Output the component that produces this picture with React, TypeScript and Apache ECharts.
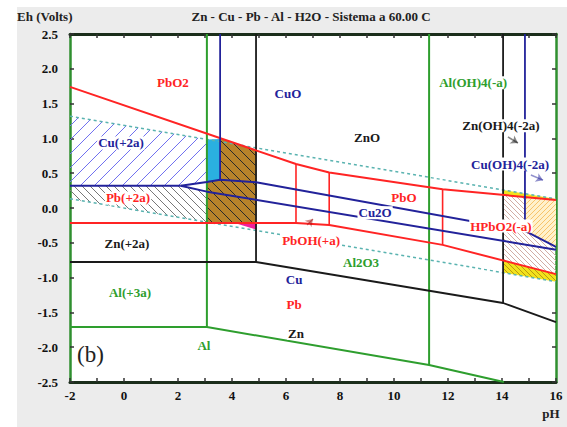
import React, { useEffect, useRef } from "react";
import * as echarts from "echarts";

// ---------- axis ranges ----------
const phRange = [-2, 16];
const ehRange = [-2.5, 2.5];

// ---------- water stability lines (pH, Eh) ----------
const waterO2 = [[-2, 1.32], [16, 0.13]];
const waterH2 = [[-2, 0.132], [16, -1.058]];

// ---------- Cu boundaries ----------
const cuHoriz = [[-2, 0.32], [2.1, 0.32]];
const cu2oUpper = [[2.1, 0.32], [3.07, 0.375], [3.56, 0.405], [4.89, 0.37], [14.85, -0.33]];
const cu2oLower = [[2.1, 0.32], [3.07, 0.235], [16, -0.6]];
const cuOH4Diag = [[14.85, -0.33], [16, -0.56]];
const cuVertLeft = [[3.56, 2.5], [3.56, 0.405]];
const cuVertRight = [[14.85, 2.5], [14.85, -0.33]];

// ---------- Zn boundaries ----------
const znVertLeft = [[4.89, 2.5], [4.89, -0.776]];
const znLower = [[-2, -0.776], [4.89, -0.776], [14.04, -1.365], [16, -1.64]];
const znVertRight = [[14.04, 2.5], [14.04, -1.365]];

// ---------- Al boundaries ----------
const alVertLeft = [[3.07, 2.5], [3.07, -1.71]];
const alLower = [[-2, -1.71], [3.07, -1.71], [11.3, -2.256], [14.07, -2.5]];
const alVertRight = [[11.3, 2.5], [11.3, -2.256]];

// ---------- Pb boundaries ----------
const pbUpper = [[-2, 1.74], [6.37, 0.632], [7.6, 0.51], [11.8, 0.27], [16, 0.115]];
const pbLower = [[-2, -0.216], [6.37, -0.216], [7.6, -0.245], [11.8, -0.53], [16, -0.95]];
const pbVert1 = [[6.37, 0.632], [6.37, -0.216]];
const pbVert2 = [[7.6, 0.51], [7.6, -0.245]];
const pbVert3 = [[11.8, 0.27], [11.8, -0.53]];

// ---------- shaded regions (pH, Eh polygons) ----------
const cyanRegion = [[3.07, 0.985], [3.56, 0.99], [3.56, 0.405], [3.07, 0.375]];
const brownRegion = [[3.56, 1.004], [4.89, 0.828], [4.89, -0.216], [3.07, -0.216], [3.07, 0.375], [3.56, 0.405]];
const magentaRegion = [[4.1, -0.216], [4.89, -0.216], [4.89, -0.31]];
const cuIonRegion = [[-2, 1.32], [3.07, 0.985], [3.07, 0.375], [2.1, 0.32], [-2, 0.32]];
const pbIonRegion = [[-2, 0.32], [2.1, 0.32], [3.07, 0.235], [3.07, -0.203], [-2, 0.132]];
const yellowTopRegion = [[14.04, 0.26], [16, 0.13], [16, 0.115], [14.04, 0.187]];
const orangeRegion = [[14.85, 0.157], [16, 0.115], [16, -0.56], [14.85, -0.33]];
const hpbo2Region = [[14.04, 0.187], [14.85, 0.157], [14.85, -0.33], [16, -0.56], [16, -0.95], [14.04, -0.754]];
const yellowBottomRegion = [[14.04, -0.754], [16, -0.95], [16, -1.058], [14.04, -0.928]];

// ---------- labels: text, pH, Eh, element ----------
const labels: [string, number, number, string][] = [
  ["PbO2", 1.81, 1.8, "Pb"],
  ["CuO", 6.07, 1.64, "Cu"],
  ["ZnO", 9.0, 1.01, "Zn"],
  ["Al(OH)4(-a)", 12.93, 1.8, "Al"],
  ["Zn(OH)4(-2a)", 13.96, 1.18, "Zn"],
  ["Cu(OH)4(-2a)", 14.3, 0.632, "Cu"],
  ["Cu(+2a)", -0.11, 0.934, "Cu"],
  ["Pb(+2a)", 0.15, 0.144, "Pb"],
  ["PbO", 10.37, 0.144, "Pb"],
  ["Cu2O", 9.3, -0.07, "Cu"],
  ["HPbO2(-a)", 13.96, -0.26, "Pb"],
  ["PbOH(+a)", 6.93, -0.46, "Pb"],
  ["Zn(+2a)", 0.11, -0.517, "Zn"],
  ["Al2O3", 8.78, -0.79, "Al"],
  ["Al(+3a)", 0.22, -1.21, "Al"],
  ["Cu", 6.3, -1.03, "Cu"],
  ["Pb", 6.3, -1.38, "Pb"],
  ["Zn", 6.37, -1.8, "Zn"],
  ["Al", 2.96, -1.97, "Al"],
];

// ---------- arrows ----------
const arrowZn = [[14.22, 1.02], [14.59, 0.934]];
const arrowCu = [[15.07, 0.474], [15.52, 0.4]];
const arrowPb = [[6.78, -0.244], [7.0, -0.158]];

const COL: Record<string, string> = {
  Pb: "#ff2424",
  Cu: "#22229a",
  Zn: "#1a1a1a",
  Al: "#2e9e2e",
  water: "#5ab3b0",
};
const SERIF = "Liberation Serif";
const FS = 13;

function hatch(P: number[][], dir: number, step: number) {
  const f = (p: number[]) => (dir === 1 ? p[0] + p[1] : p[0] - p[1]);
  const cs = P.map(f);
  const cmin = Math.min(...cs);
  const cmax = Math.max(...cs);
  const segs: number[][] = [];
  for (let c = Math.ceil(cmin / step) * step; c <= cmax; c += step) {
    const xs: number[] = [];
    for (let i = 0; i < P.length; i++) {
      const a = P[i];
      const b = P[(i + 1) % P.length];
      const fa = f(a) - c;
      const fb = f(b) - c;
      if ((fa < 0 && fb >= 0) || (fa >= 0 && fb < 0)) {
        const t = fa / (fa - fb);
        xs.push(a[0] + t * (b[0] - a[0]));
      }
    }
    xs.sort((u, v) => u - v);
    for (let k = 0; k + 1 < xs.length; k += 2) {
      const x1 = xs[k];
      const x2 = xs[k + 1];
      const y1 = dir === 1 ? c - x1 : x1 - c;
      const y2 = dir === 1 ? c - x2 : x2 - c;
      segs.push([x1, y1, x2, y2]);
    }
  }
  return segs;
}

type RegionStyle = {
  pts: number[][];
  fill?: string;
  hatch?: { dir: number; step: number; color: string; width: number };
};

const regionStyles: RegionStyle[] = [
  { pts: cuIonRegion, hatch: { dir: 1, step: 14, color: "#7070f0", width: 1 } },
  { pts: pbIonRegion, hatch: { dir: -1, step: 8, color: "#777777", width: 1 } },
  { pts: cyanRegion, fill: "#2ab0e0" },
  { pts: brownRegion, fill: "#b8832a", hatch: { dir: -1, step: 10, color: "#2a2a2a", width: 1 } },
  { pts: magentaRegion, fill: "#f0209a" },
  { pts: yellowTopRegion, fill: "#f2e21c" },
  { pts: hpbo2Region, hatch: { dir: -1, step: 5, color: "#d2ada4", width: 1 } },
  { pts: orangeRegion, fill: "#fff1cc", hatch: { dir: 1, step: 5, color: "#f7c46a", width: 1 } },
  { pts: yellowBottomRegion, fill: "#f2e21c", hatch: { dir: -1, step: 5, color: "#b89a10", width: 1 } },
];

function lineSeries(data: number[][], color: string, width: number, type: any = "solid", z = 3) {
  return {
    type: "line",
    data,
    showSymbol: false,
    symbol: "none",
    silent: true,
    z,
    lineStyle: { color, width, type },
  };
}

function txt(text: string, size: number, weight: string) {
  return { text, fontFamily: SERIF, fontSize: size, fontWeight: weight, fill: "#222" };
}

export default function App() {
  const ref = useRef<HTMLDivElement>(null);
  useEffect(() => {
    document.body.style.margin = "0";
    const chart = echarts.init(ref.current!, null, { renderer: "svg" });
    const axisLabelStyle = {
      fontFamily: SERIF,
      fontWeight: "bold",
      fontSize: FS,
      color: "#111",
    };
    const option: any = {
      animation: false,
      backgroundColor: "transparent",
      textStyle: { fontFamily: SERIF },
      grid: {
        left: 70,
        right: 11,
        top: 34,
        bottom: 45,
        show: true,
        backgroundColor: "#ffffff",
        borderWidth: 0,
        z: 0,
      },
      graphic: [
        { type: "rect", z: -10, shape: { x: 17, y: 7, width: 560, height: 430 }, style: { fill: "#ececec" } },
        { type: "text", z: 10, x: 17, y: 16, style: { ...txt("Eh (Volts)", FS, "bold"), verticalAlign: "middle" } },
        { type: "text", z: 10, x: 311, y: 16, style: { ...txt("Zn - Cu - Pb - Al - H2O - Sistema a 60.00 C", FS, "bold"), align: "center", verticalAlign: "middle" } },
        { type: "text", z: 10, x: 551, y: 413, style: { ...txt("pH", FS, "bold"), align: "center", verticalAlign: "middle" } },
        { type: "text", z: 10, x: 77, y: 354, style: { ...txt("(b)", 23, "normal"), verticalAlign: "middle" } },
      ],
      xAxis: [
        {
          type: "value",
          min: phRange[0],
          max: phRange[1],
          interval: 1,
          position: "bottom",
          axisLine: { onZero: false, lineStyle: { color: "#1b2e1b", width: 3 } },
          axisTick: { inside: true, length: 4, lineStyle: { color: "#333", width: 1.5 } },
          axisLabel: { ...axisLabelStyle, margin: 7, formatter: (v: number) => (v % 2 === 0 ? String(v) : "") },
          splitLine: { show: false },
        },
        {
          type: "value",
          min: phRange[0],
          max: phRange[1],
          interval: 1,
          position: "top",
          axisLine: { onZero: false, lineStyle: { color: "#1b2e1b", width: 3 } },
          axisTick: { inside: true, length: 4, lineStyle: { color: "#333", width: 1.5 } },
          axisLabel: { show: false },
          splitLine: { show: false },
        },
      ],
      yAxis: [
        {
          type: "value",
          min: ehRange[0],
          max: ehRange[1],
          interval: 0.5,
          position: "left",
          axisLine: { onZero: false, lineStyle: { color: "#2f8f2f", width: 2.5 } },
          axisTick: { inside: true, length: 4, lineStyle: { color: "#333", width: 1.5 } },
          axisLabel: { ...axisLabelStyle, margin: 12, formatter: (v: number) => v.toFixed(1) },
          splitLine: { show: false },
        },
        {
          type: "value",
          min: ehRange[0],
          max: ehRange[1],
          interval: 0.5,
          position: "right",
          axisLine: { onZero: false, lineStyle: { color: "#2f8f2f", width: 2.5 } },
          axisTick: { inside: true, length: 4, lineStyle: { color: "#333", width: 1.5 } },
          axisLabel: { show: false },
          splitLine: { show: false },
        },
      ],
      series: [
        {
          type: "custom",
          silent: true,
          z: 1,
          clip: true,
          data: [[0, 0]],
          renderItem: (_p: any, api: any) => {
            const children: any[] = [];
            regionStyles.forEach((r) => {
              const px = r.pts.map((pt) => api.coord(pt));
              if (r.fill) {
                children.push({ type: "polygon", shape: { points: px }, style: { fill: r.fill, stroke: "none" } });
              }
              if (r.hatch) {
                hatch(px, r.hatch.dir, r.hatch.step).forEach((s) => {
                  children.push({
                    type: "line",
                    shape: { x1: s[0], y1: s[1], x2: s[2], y2: s[3] },
                    style: { stroke: r.hatch!.color, lineWidth: r.hatch!.width },
                  });
                });
              }
            });
            return { type: "group", children };
          },
        },
        lineSeries(waterO2, COL.water, 1.5, [3, 3], 2),
        lineSeries(waterH2, COL.water, 1.5, [3, 3], 2),
        lineSeries(alVertLeft, COL.Al, 2),
        lineSeries(alLower, COL.Al, 2),
        lineSeries(alVertRight, COL.Al, 2),
        lineSeries(znVertLeft, COL.Zn, 1.8),
        lineSeries(znLower, COL.Zn, 1.8),
        lineSeries(znVertRight, COL.Zn, 1.8),
        lineSeries(pbUpper, COL.Pb, 2),
        lineSeries(pbLower, COL.Pb, 2),
        lineSeries(pbVert1, COL.Pb, 1.6),
        lineSeries(pbVert2, COL.Pb, 1.6),
        lineSeries(pbVert3, COL.Pb, 1.6),
        lineSeries(cuHoriz, COL.Cu, 2),
        lineSeries(cu2oUpper, COL.Cu, 2),
        lineSeries(cu2oLower, COL.Cu, 2),
        lineSeries(cuOH4Diag, COL.Cu, 2),
        lineSeries(cuVertLeft, COL.Cu, 1.8),
        lineSeries(cuVertRight, COL.Cu, 1.8),
        {
          type: "lines",
          coordinateSystem: "cartesian2d",
          silent: true,
          z: 6,
          symbol: ["none", "arrow"],
          symbolSize: 7,
          data: [
            { coords: arrowZn, lineStyle: { color: "#111", width: 1.5 } },
            { coords: arrowCu, lineStyle: { color: COL.Cu, width: 1.5 } },
            { coords: arrowPb, lineStyle: { color: "#a01010", width: 1.2 } },
          ],
        },
        {
          type: "custom",
          silent: true,
          z: 5,
          data: labels.map((l) => [l[1], l[2]]),
          renderItem: (params: any, api: any) => {
            const L = labels[params.dataIndex];
            const p = api.coord([L[1], L[2]]);
            return {
              type: "text",
              x: p[0],
              y: p[1],
              style: {
                text: L[0],
                fontFamily: SERIF,
                fontSize: FS,
                fontWeight: "bold",
                fill: COL[L[3]],
                align: "center",
                verticalAlign: "middle",
                backgroundColor: "#ffffff",
                padding: [0, 1],
              },
            };
          },
        },
      ],
    };
    chart.setOption(option);
    return () => chart.dispose();
  }, []);
  return <div ref={ref} style={{ width: 567, height: 427 }} />;
}
